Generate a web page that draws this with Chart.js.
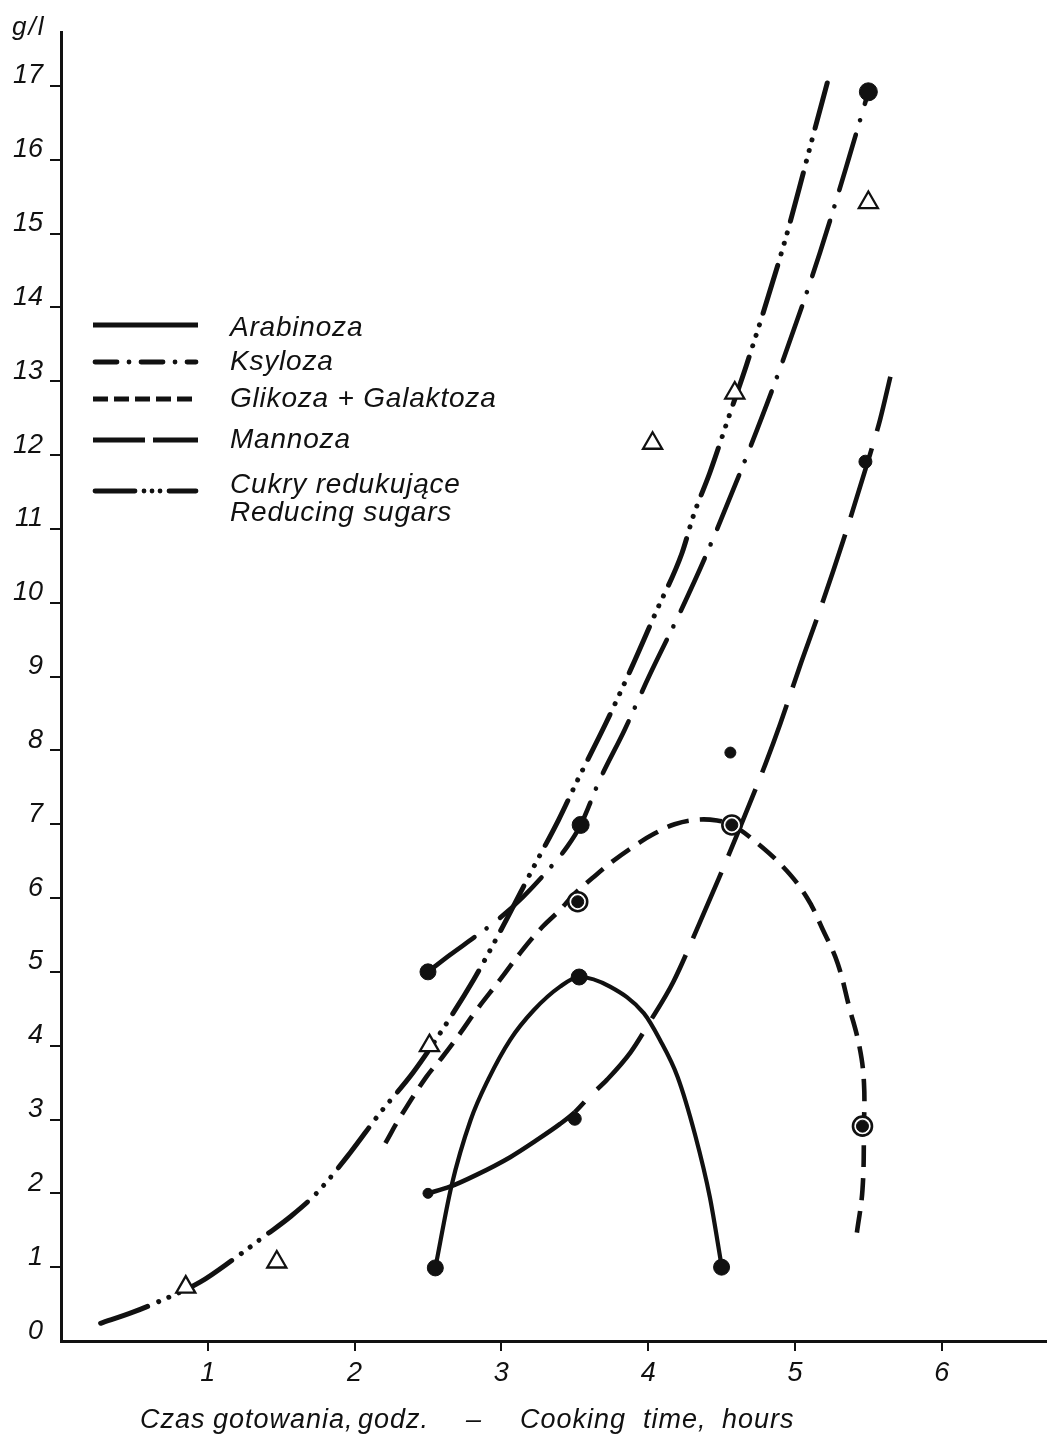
<!DOCTYPE html>
<html>
<head>
<meta charset="utf-8">
<title>Cukry w hydrolizacie</title>
<script src="https://cdn.jsdelivr.net/npm/chart.js@4.4.1/dist/chart.umd.min.js"></script>
<style>
  html, body { margin: 0; padding: 0; background: #fff; }
  canvas { display: block; }
</style>
</head>
<body>
<canvas id="chart" width="1047" height="1436"></canvas>
<script>
// ---- axis ticks ----
const xTicks = [1, 2, 3, 4, 5, 6];
const yTicks = [0, 1, 2, 3, 4, 5, 6, 7, 8, 9, 10, 11, 12, 13, 14, 15, 16, 17];

// ---- series names ----
const seriesNames = ['Arabinoza', 'Ksyloza', 'Glikoza + Galaktoza', 'Mannoza', 'Cukry redukujące'];
const seriesSubtitle = 'Reducing sugars';

// ---- measured points (g/l against cooking time, h) ----
const arabinozaPtX = [2.55, 3.53, 4.50];
const arabinozaPtY = [0.99, 4.93, 1.00];

const ksylozaPtX = [2.50, 3.54, 5.50];
const ksylozaPtY = [5.00, 6.99, 16.92];

const glikozaPtX = [3.52, 4.57, 5.46];
const glikozaPtY = [5.95, 6.99, 2.91];

const mannozaPtX = [2.50, 3.50, 4.56, 5.48];
const mannozaPtY = [2.00, 3.01, 7.97, 11.91];

const cukryPtX = [0.85, 1.47, 2.51, 4.03, 4.59, 5.50];
const cukryPtY = [0.73, 1.07, 4.00, 12.16, 12.84, 15.42];

// ---- fitted curves ----
const arabinozaX = [2.55, 2.66, 2.79, 2.91, 3.06, 3.22, 3.40, 3.53, 3.74, 3.97, 4.08, 4.20, 4.32, 4.42, 4.50];
const arabinozaY = [0.99, 2.10, 2.99, 3.54, 4.08, 4.48, 4.80, 4.93, 4.80, 4.44, 4.08, 3.58, 2.79, 1.95, 1.02];

const ksylozaX = [2.50, 2.65, 2.81, 2.99, 3.15, 3.31, 3.45, 3.54, 3.67, 3.84, 4.01, 4.22, 4.40, 4.67, 4.90, 5.17, 5.37, 5.50];
const ksylozaY = [5.00, 5.23, 5.46, 5.73, 6.02, 6.36, 6.70, 6.99, 7.60, 8.28, 9.02, 9.88, 10.67, 11.98, 13.18, 14.74, 16.04, 16.92];

const glikozaX = [2.21, 2.31, 2.49, 2.60, 2.72, 2.83, 2.99, 3.13, 3.28, 3.40, 3.49, 3.62, 3.76, 3.94, 4.04, 4.18, 4.33, 4.47, 4.57, 4.69, 4.92, 5.08, 5.19, 5.29, 5.37, 5.44, 5.47, 5.47, 5.46, 5.42];
const glikozaY = [2.68, 3.03, 3.58, 3.85, 4.17, 4.48, 4.89, 5.26, 5.61, 5.84, 6.04, 6.27, 6.50, 6.75, 6.87, 7.00, 7.06, 7.05, 6.99, 6.83, 6.42, 6.01, 5.57, 5.12, 4.52, 3.98, 3.50, 2.91, 2.05, 1.44];

const mannozaX = [2.50, 2.65, 2.83, 3.06, 3.24, 3.40, 3.50, 3.60, 3.72, 3.88, 4.01, 4.17, 4.35, 4.48, 4.61, 4.71, 4.80, 4.90, 5.03, 5.17, 5.33, 5.49, 5.58, 5.65];
const mannozaY = [2.00, 2.09, 2.25, 2.49, 2.72, 2.94, 3.10, 3.31, 3.54, 3.91, 4.32, 4.86, 5.66, 6.26, 6.88, 7.37, 7.82, 8.36, 9.12, 9.90, 10.85, 11.87, 12.48, 13.06];

const cukryX = [0.27, 0.49, 0.65, 0.95, 1.17, 1.40, 1.56, 1.74, 1.97, 2.17, 2.40, 2.56, 2.81, 2.99, 3.22, 3.39, 3.52, 3.71, 3.88, 4.05, 4.23, 4.31, 4.42, 4.56, 4.67, 4.93, 5.03, 5.12, 5.22];
const cukryY = [0.24, 0.39, 0.52, 0.80, 1.10, 1.44, 1.68, 2.00, 2.55, 3.08, 3.64, 4.10, 4.89, 5.54, 6.42, 7.06, 7.60, 8.36, 9.09, 9.86, 10.67, 11.19, 11.76, 12.58, 13.22, 14.89, 15.62, 16.30, 17.04];

const pairs = (xs, ys) => xs.map((x, i) => ({ x: x, y: ys[i] }));

const FONT = "'Liberation Sans', 'DejaVu Sans', Arial, sans-serif";
const INK = '#111';

// line patterns for the curves
const DASH = {
  arabinoza: [],
  ksyloza: [58, 15, 0.01, 17],
  glikoza: [22, 11],
  mannoza: [72, 18],
  cukry: [50, 12, 0.01, 11, 0.01, 11, 0.01, 12]
};

function markerSet(label, xs, ys, extra) {
  return Object.assign({
    label: label,
    data: pairs(xs, ys),
    showLine: false,
    pointStyle: 'circle',
    pointBackgroundColor: INK,
    pointBorderColor: INK,
    pointBorderWidth: 1,
    order: 0
  }, extra);
}

function curveSet(label, xs, ys, extra) {
  return Object.assign({
    label: label,
    data: pairs(xs, ys),
    showLine: true,
    pointRadius: 0,
    borderColor: INK,
    borderWidth: 4.6,
    fill: false,
    cubicInterpolationMode: 'monotone',
    order: 5
  }, extra);
}

const datasets = [
  // curves
  curveSet(seriesNames[0], arabinozaX, arabinozaY, { borderDash: DASH.arabinoza, borderWidth: 4.2 }),
  curveSet(seriesNames[1], ksylozaX, ksylozaY, { borderDash: DASH.ksyloza, borderCapStyle: 'round' }),
  curveSet(seriesNames[2], glikozaX, glikozaY, { borderDash: DASH.glikoza, cubicInterpolationMode: 'default', tension: 0.4 }),
  curveSet(seriesNames[3], mannozaX, mannozaY, {
    borderDash: DASH.mannoza,
    borderDashOffset: 58,
    segment: { borderDash: ctx => (ctx.p0DataIndex < 6 ? [] : DASH.mannoza) }
  }),
  curveSet(seriesNames[4], cukryX, cukryY, { borderDash: DASH.cukry, borderCapStyle: 'round', borderWidth: 5 }),

  // measured points
  markerSet(seriesNames[0], arabinozaPtX, arabinozaPtY, { pointRadius: 8 }),
  markerSet(seriesNames[1], ksylozaPtX, ksylozaPtY, { pointRadius: [8, 8.5, 9] }),
  markerSet(seriesNames[2], glikozaPtX, glikozaPtY, {
    pointRadius: 9.5, pointBackgroundColor: '#fff', pointBorderWidth: 2.6, order: 1
  }),
  markerSet(seriesNames[2], glikozaPtX, glikozaPtY, { pointRadius: 6, order: 0 }),
  markerSet(seriesNames[3], mannozaPtX, mannozaPtY, { pointRadius: [5, 6.5, 5.5, 6.5] }),
  markerSet(seriesNames[4], cukryPtX, cukryPtY, {
    pointStyle: 'triangle', pointRadius: 11, pointBackgroundColor: '#fff', pointBorderWidth: 2.3
  })
];

function setSpacing(ctx, px) {
  if ('letterSpacing' in ctx) ctx.letterSpacing = px + 'px';
}

// key, unit label and axis caption
const annotations = {
  id: 'annotations',
  afterDraw(chart) {
    const ctx = chart.ctx;
    ctx.save();
    ctx.fillStyle = INK;
    ctx.strokeStyle = INK;

    // unit at the top of the value axis
    ctx.font = 'italic 26px ' + FONT;
    ctx.textAlign = 'left';
    ctx.textBaseline = 'alphabetic';
    setSpacing(ctx, 2);
    ctx.fillText('g/l', 12, 35);

    // key
    const keyRows = [
      { dash: [], cap: 'butt', lineY: 325, textY: 336 },
      { dash: [22, 12, 0.01, 12], cap: 'round', lineY: 362, textY: 370 },
      { dash: [15, 6], cap: 'butt', lineY: 399, textY: 407 },
      { dash: [52, 8], cap: 'butt', lineY: 440, textY: 448 },
      { dash: [40, 9, 0.01, 8, 0.01, 8, 0.01, 9], cap: 'round', lineY: 491, textY: 493 }
    ];
    ctx.lineWidth = 4.8;
    keyRows.forEach((row, i) => {
      ctx.beginPath();
      ctx.setLineDash(row.dash);
      ctx.lineCap = row.cap;
      ctx.moveTo(row.cap === 'round' ? 95 : 93, row.lineY);
      ctx.lineTo(row.cap === 'round' ? 196 : 198, row.lineY);
      ctx.stroke();
      ctx.font = 'italic 28px ' + FONT;
      setSpacing(ctx, 0.8);
      ctx.fillText(seriesNames[i], 230, row.textY);
    });
    ctx.setLineDash([]);
    ctx.fillText(seriesSubtitle, 230, 521);

    // horizontal axis caption
    ctx.font = 'italic 27px ' + FONT;
    setSpacing(ctx, 1);
    const captionWords = [
      ['Czas', 140], ['gotowania,', 213], ['godz.', 358],
      ['\u2013', 466],
      ['Cooking', 520], ['time,', 643], ['hours', 722]
    ];
    captionWords.forEach(w => ctx.fillText(w[0], w[1], 1428));

    ctx.restore();
  }
};

const tickFont = { family: FONT, size: 27, style: 'italic' };

new Chart(document.getElementById('chart'), {
  type: 'scatter',
  data: { datasets: datasets },
  options: {
    responsive: false,
    animation: false,
    devicePixelRatio: 1,
    layout: { autoPadding: false, padding: { top: 32, left: 0, right: 0, bottom: 0 } },
    plugins: {
      legend: { display: false },
      tooltip: { enabled: false }
    },
    scales: {
      x: {
        type: 'linear',
        min: 0,
        max: 6.717,
        afterBuildTicks: s => { s.ticks = xTicks.map(v => ({ value: v })); },
        afterFit: s => { s.height = 95; s.paddingLeft = 0; s.paddingRight = 0; },
        border: { display: true, color: INK, width: 3 },
        grid: { drawOnChartArea: false, drawTicks: true, tickLength: 10, color: INK, lineWidth: 2 },
        ticks: {
          color: INK, font: tickFont, padding: 6,
          maxRotation: 0, autoSkip: false, includeBounds: false,
          callback: v => String(v)
        }
      },
      y: {
        type: 'linear',
        min: 0,
        max: 17.73,
        afterBuildTicks: s => { s.ticks = yTicks.map(v => ({ value: v })); },
        afterFit: s => { s.width = 61; s.paddingTop = 0; s.paddingBottom = 0; },
        border: { display: true, color: INK, width: 3 },
        grid: {
          drawOnChartArea: false, drawTicks: true, tickLength: 11, lineWidth: 2,
          color: ctx => (ctx.tick && ctx.tick.value === 0 ? 'rgba(0,0,0,0)' : INK)
        },
        ticks: {
          color: INK, font: tickFont, padding: 7, labelOffset: -10,
          autoSkip: false, includeBounds: false,
          callback: v => String(v)
        }
      }
    }
  },
  plugins: [annotations]
});
</script>
</body>
</html>
